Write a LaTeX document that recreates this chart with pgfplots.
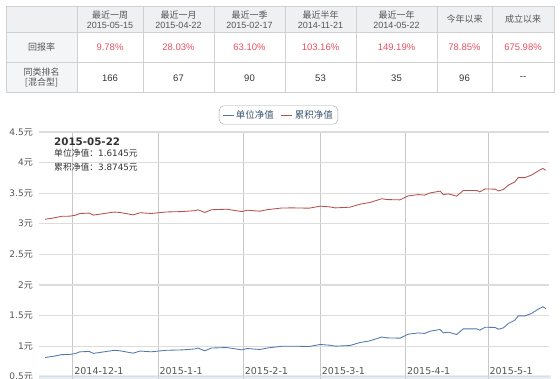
\documentclass[border=0pt]{standalone}
\usepackage{pgfplots}
\usepackage{pgfplotstable}
\pgfplotsset{compat=1.18}
\usepackage{fontspec}
\setmainfont{Liberation Sans}
\newfontfamily\cjk{Noto Sans CJK SC}
\newfontfamily\dv{DejaVu Sans}
\definecolor{blueline}{HTML}{4F78AE}
\definecolor{redline}{HTML}{B4504D}
\definecolor{gridh}{HTML}{DCDCDC}
\definecolor{gridv}{HTML}{C8C8C8}
\definecolor{hdrbg}{HTML}{EEF0F2}
\definecolor{colbg}{HTML}{F4F5F6}
\definecolor{tblborder}{HTML}{D0D0D0}
\definecolor{redtxt}{HTML}{E8505F}
\definecolor{txt}{HTML}{555555}
\definecolor{txtdark}{HTML}{333333}
\definecolor{legtxt}{HTML}{3E576F}
\definecolor{navbg}{HTML}{E6EDF5}

\pgfplotstableread{
day unit cum
-10 0.815 3.075
-7 0.835 3.095
-4 0.862 3.122
-1 0.865 3.125
1 0.880 3.140
2.5 0.907 3.167
6 0.915 3.175
7.5 0.882 3.142
11 0.905 3.165
15 0.932 3.192
17 0.926 3.186
22 0.886 3.146
24.5 0.921 3.181
28.5 0.908 3.168
34 0.933 3.193
40 0.940 3.200
44.5 0.955 3.215
45.5 0.970 3.230
48 0.925 3.185
50.5 0.970 3.230
56 0.978 3.238
61.5 0.940 3.200
63.5 0.962 3.222
68 0.946 3.206
71 0.972 3.232
76 0.998 3.258
80 1.000 3.260
86 0.995 3.255
90 1.028 3.288
93.5 1.016 3.276
95.5 1.000 3.260
100.8 1.011 3.271
104.5 1.060 3.320
108 1.087 3.347
112.4 1.150 3.410
114.2 1.136 3.396
119 1.131 3.391
122 1.196 3.456
125.7 1.217 3.477
128 1.208 3.468
130 1.245 3.505
133.6 1.273 3.533
134.8 1.217 3.477
136.6 1.229 3.489
139.6 1.191 3.451
142 1.283 3.543
147 1.283 3.543
148 1.261 3.521
150 1.310 3.570
153.6 1.306 3.566
154.8 1.278 3.538
156.6 1.299 3.559
158.4 1.371 3.631
160.8 1.425 3.685
162 1.495 3.755
164.5 1.495 3.755
167 1.539 3.799
169.3 1.605 3.865
171 1.645 3.905
172 1.6145 3.8745
}\navdata

\begin{document}
\begin{tikzpicture}[x=1pt,y=1pt]
\useasboundingbox (0,0) rectangle (560,379);
% ---- table ----
\fill[hdrbg] (6,347) rectangle (554,372);
\fill[colbg] (6,286) rectangle (77,347);
\foreach \yy in {347,317} \draw[tblborder] (6,\yy) -- (554,\yy);
\foreach \xx in {77,143,214,285,356,437,492} \draw[tblborder] (\xx,286) -- (\xx,372);
\draw[tblborder, line width=1pt] (6,286) rectangle (554,372);
\tikzset{hd/.style={align=center, inner sep=0pt, text=txt, font=\fontsize{9}{10}\selectfont}}
\node[hd] at (110,359.5) {{\cjk 最近一周}\\2015-05-15};
\node[hd] at (178.5,359.5) {{\cjk 最近一月}\\2015-04-22};
\node[hd] at (249.5,359.5) {{\cjk 最近一季}\\2015-02-17};
\node[hd] at (320.5,359.5) {{\cjk 最近半年}\\2014-11-21};
\node[hd] at (396.5,359.5) {{\cjk 最近一年}\\2014-05-22};
\node[hd] at (464.5,359.5) {\cjk 今年以来};
\node[hd] at (523,359.5) {\cjk 成立以来};
\node[hd] at (41.5,332) {\cjk 回报率};
\node[hd] at (41.5,301.5) {\cjk 同类排名\\\cjk [混合型]};
\tikzset{rv/.style={inner sep=0pt, text=redtxt, font=\fontsize{9.5}{10}\selectfont},
         rk/.style={inner sep=0pt, text=txtdark, font=\fontsize{9.5}{10}\selectfont}}
\node[rv] at (110,332) {9.78\%};
\node[rv] at (178.5,332) {28.03\%};
\node[rv] at (249.5,332) {63.10\%};
\node[rv] at (320.5,332) {103.16\%};
\node[rv] at (396.5,332) {149.19\%};
\node[rv] at (464.5,332) {78.85\%};
\node[rv] at (523,332) {675.98\%};
\node[rk] at (110,301) {166};
\node[rk] at (178.5,301) {67};
\node[rk] at (249.5,301) {90};
\node[rk] at (320.5,301) {53};
\node[rk] at (396.5,301) {35};
\node[rk] at (464.5,301) {96};
\node[rk] at (523,301) {{-}{-}};
% ---- navigator band ----
\fill[navbg] (39,0) rectangle (551,4);
% ---- chart ----
\begin{axis}[
  at={(39pt,0pt)}, anchor=south west,
  scale only axis, width=510pt, height=247pt,
  xmin=-12.25, xmax=173.2, ymin=0.464, ymax=4.5,
  axis line style={draw=none},
  major tick length=0pt, tick style={draw=none},
  /pgf/number format/assume math mode=true,
  ytick={0.5,1,1.5,2,2.5,3,3.5,4,4.5},
  yticklabel={\pgfmathprintnumber{\tick}{\cjk 元}},
  yticklabel style={font=\dv\fontsize{9}{10}\selectfont, text=txt, inner sep=0pt, xshift=-6pt},
  xtick={0,31,62,90,121,151},
  xticklabels={2014-12-1,2015-1-1,2015-2-1,2015-3-1,2015-4-1,2015-5-1},
  xticklabel style={font=\dv\fontsize{9.5}{10}\selectfont, text=txt, anchor=south west, inner sep=0pt, xshift=1.5pt, yshift=4.5pt},
  xmajorgrids, ymajorgrids,
  x grid style={gridv, line width=0.8pt},
  y grid style={gridh, line width=1.3pt},
  legend columns=2,
  legend style={at={(0.4696,1.0688)}, anchor=center, draw=gray!70, rounded corners=5pt, fill=white,
    font=\cjk\fontsize{9.5}{11}\selectfont, text=legtxt, inner xsep=3pt, inner ysep=2.5pt,
    /tikz/every even column/.append style={column sep=5pt}},
  legend image code/.code={\draw[#1, line width=0.9pt] (0pt,0pt) -- (11pt,0pt);},
]
\addplot[blueline, line width=0.85pt] table[x=day, y=unit] {\navdata};
\addplot[redline, line width=0.85pt] table[x=day, y=cum] {\navdata};
\legend{单位净值,累积净值}
\end{axis}
% ---- tooltip text ----
\node[anchor=west, inner sep=0pt, text=txtdark, font=\dv\bfseries\fontsize{10.3}{12}\selectfont] at (54,237) {2015-05-22};
\node[anchor=west, inner sep=0pt, text=txtdark, font=\dv\fontsize{8.8}{10}\selectfont] at (54,225.7) {{\cjk 单位净值：}1.6145{\cjk 元}};
\node[anchor=west, inner sep=0pt, text=txtdark, font=\dv\fontsize{8.8}{10}\selectfont] at (54,212) {{\cjk 累积净值：}3.8745{\cjk 元}};
\end{tikzpicture}
\end{document}
